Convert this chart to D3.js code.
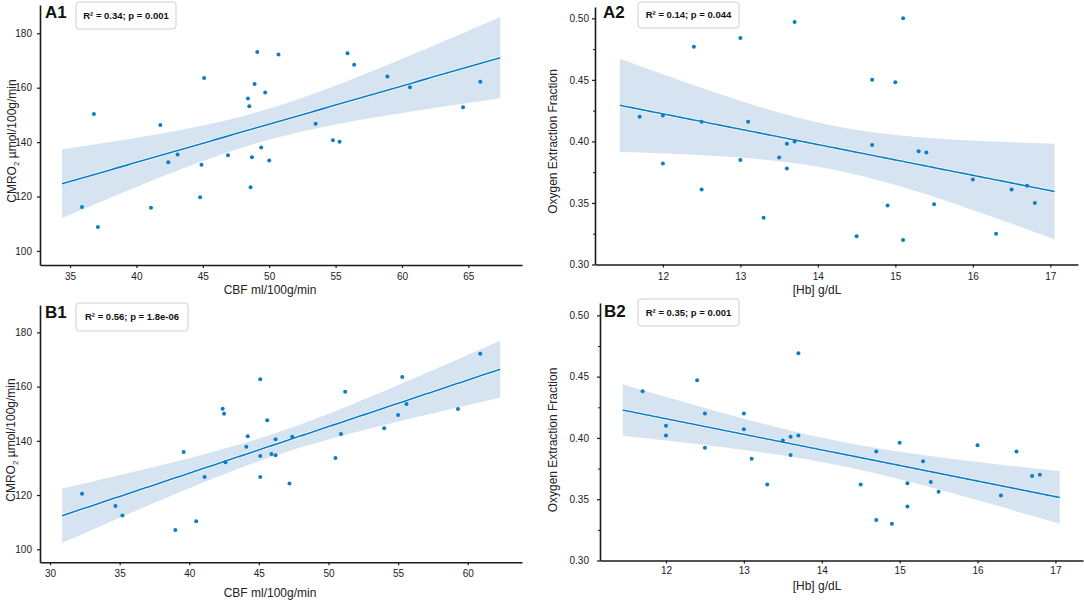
<!DOCTYPE html>
<html><head><meta charset="utf-8">
<script src="https://cdn.jsdelivr.net/npm/d3@7"></script>
<style>
body{margin:0;background:#fff;}
svg{display:block;font-family:"Liberation Sans",Arial,sans-serif;}
</style></head><body>
<svg id="chart" width="1084" height="602"></svg>
<script>
// ---------------- data ----------------
const a1_cbf   = [35.9,36.8,37.1,41.1,41.8,42.4,43.1,44.8,44.9,45.1,46.9,48.4,48.5,48.6,48.7,48.9,49.1,49.4,49.7,50.0,50.7,53.5,54.8,55.3,55.9,56.4,58.9,60.6,64.6,65.9];
const a1_cmro2 = [116.1,150.3,108.8,115.9,146.3,132.6,135.4,119.7,131.7,163.6,135.2,156.0,153.2,123.4,134.4,161.4,173.1,138.0,158.2,133.2,172.2,146.7,140.7,140.1,172.7,168.4,164.1,160.2,152.8,162.2];

const a2_hb  = [11.7,12.0,12.0,12.4,12.5,12.5,13.0,13.0,13.1,13.3,13.5,13.6,13.6,13.7,13.7,14.5,14.7,14.7,14.9,15.0,15.1,15.1,15.3,15.4,15.5,16.0,16.3,16.5,16.7,16.8];
const a2_oef = [0.420,0.421,0.382,0.477,0.416,0.361,0.484,0.385,0.416,0.338,0.387,0.398,0.378,0.497,0.400,0.323,0.450,0.397,0.348,0.448,0.500,0.320,0.392,0.391,0.349,0.369,0.325,0.361,0.364,0.350];

const b1_cbf   = [32.3,34.7,35.2,39.0,39.6,40.5,41.1,42.6,42.4,42.5,44.1,44.2,45.1,45.1,45.1,45.6,45.9,46.2,46.2,47.4,47.2,50.5,50.9,51.2,54.0,55.0,55.3,55.6,59.3,60.9];
const b1_cmro2 = [120.5,116.0,112.5,107.1,135.9,110.3,126.7,132.1,151.8,150.0,137.8,141.7,162.7,134.4,126.7,147.6,135.1,140.6,134.7,141.5,124.3,133.7,142.5,158.1,144.6,149.5,163.5,153.6,151.7,172.1];

const b2_hb  = [11.7,12.0,12.0,12.4,12.5,12.5,13.0,13.0,13.1,13.3,13.5,13.6,13.6,13.7,13.7,14.5,14.7,14.7,14.9,15.0,15.1,15.1,15.3,15.4,15.5,16.0,16.3,16.5,16.7,16.8];
const b2_oef = [0.438,0.410,0.402,0.447,0.420,0.392,0.420,0.407,0.383,0.362,0.398,0.401,0.386,0.469,0.402,0.362,0.389,0.333,0.330,0.396,0.363,0.344,0.381,0.364,0.356,0.394,0.353,0.389,0.369,0.370];

const cbfTicksA   = [35,40,45,50,55,60,65];
const cbfTicksB   = [30,35,40,45,50,55,60];
const cmroTicks   = [100,120,140,160,180];
const hbTicks     = [12,13,14,15,16,17];
const oefTicks    = [0.30,0.35,0.40,0.45,0.50];
const oefMinor    = [0.325,0.375,0.425,0.475];

const panelNames  = ["A1","A2","B1","B2"];
const statTexts   = ["R² = 0.34; p = 0.001","R² = 0.14; p = 0.044","R² = 0.56; p = 1.8e-06","R² = 0.35; p = 0.001"];
const xTitles     = ["CBF ml/100g/min","[Hb] g/dL","CBF ml/100g/min","[Hb] g/dL"];

// ---------------- style / layout ----------------
const BLUE = "#0b7dc4", BAND = "#d6e4f2", AXIS = "#1a1a1a";
const svg = d3.select("#chart");

const panels = [
  {i:0, xs:a1_cbf, ys:a1_cmro2, px:[40,522], py:[265,5],   xd:[32.74,69.04], yd:[94.82,190.4],
   xt:cbfTicksA, yt:cmroTicks, fmt:d3.format("d"), minor:null, ypad:5, xpad:5,
   lab:[45,18], box:[76,2,100,27], xl:[270,294], yl:[12,141], cmro:true},
  {i:1, xs:a2_hb, ys:a2_oef, px:[595,1078], py:[264.5,7], xd:[11.124,17.357], yd:[0.30,0.5092],
   xt:hbTicks, yt:oefTicks, fmt:d3.format(".2f"), minor:oefMinor, ypad:3, xpad:5,
   lab:[603,18], box:[638,2,101,26], xl:[817,294], yl:[553,141.5], cmro:false},
  {i:2, xs:b1_cbf, ys:b1_cmro2, px:[40,522], py:[562.3,305], xd:[29.28,63.9], yd:[95.2,190.1],
   xt:cbfTicksB, yt:cmroTicks, fmt:d3.format("d"), minor:null, ypad:5, xpad:5,
   lab:[45,318], box:[76,303,112,28], xl:[270,597], yl:[11,440], cmro:true},
  {i:3, xs:b2_hb, ys:b2_oef, px:[600,1083], py:[560.5,303], xd:[11.153,17.354], yd:[0.30,0.5101],
   xt:hbTicks, yt:oefTicks, fmt:d3.format(".2f"), minor:oefMinor, ypad:8, xpad:3,
   lab:[604,317], box:[638,299,101,27], xl:[817,590], yl:[553,440], cmro:false}
];

function regression(xs, ys){
  const n = xs.length, mx = d3.mean(xs), my = d3.mean(ys);
  let sxx=0, sxy=0;
  for(let k=0;k<n;k++){ sxx += (xs[k]-mx)**2; sxy += (xs[k]-mx)*(ys[k]-my); }
  const b = sxy/sxx, a = my - b*mx;
  let sse = 0;
  for(let k=0;k<n;k++){ sse += (ys[k]-(a+b*xs[k]))**2; }
  const s = Math.sqrt(sse/(n-2)), t = 2.048;
  const lo = d3.min(xs), hi = d3.max(xs), m = 0.05*(hi-lo);
  const grid = d3.range(0,101).map(k => lo - m + (hi-lo+2*m)*k/100);
  return grid.map(x => {
    const f = a + b*x, se = s*Math.sqrt(1/n + (x-mx)**2/sxx);
    return {x, f, l:f - t*se, u:f + t*se};
  });
}

panels.forEach(p => {
  const x = d3.scaleLinear().domain(p.xd).range(p.px);
  const y = d3.scaleLinear().domain(p.yd).range(p.py);
  const g = svg.append("g");
  const reg = regression(p.xs, p.ys);

  // band
  g.append("path").datum(reg)
    .attr("fill", BAND).attr("stroke","none")
    .attr("d", d3.area().x(d=>x(d.x)).y0(d=>y(d.l)).y1(d=>y(d.u)));
  // fit line
  g.append("path").datum(reg)
    .attr("fill","none").attr("stroke","#fff").attr("stroke-width",2.8)
    .attr("d", d3.line().x(d=>x(d.x)).y(d=>y(d.f)));
  g.append("path").datum(reg)
    .attr("fill","none").attr("stroke",BLUE).attr("stroke-width",1.6)
    .attr("d", d3.line().x(d=>x(d.x)).y(d=>y(d.f)));
  // points
  g.selectAll("circle.pt").data(p.xs.map((v,k)=>[v,p.ys[k]])).join("circle")
    .attr("class","pt").attr("cx",d=>x(d[0])).attr("cy",d=>y(d[1]))
    .attr("r",2.0).attr("fill",BLUE);

  // axes
  const xa = g.append("g").attr("transform",`translate(0,${p.py[0]})`)
    .call(d3.axisBottom(x).tickValues(p.xt).tickSize(3).tickSizeOuter(0).tickPadding(p.xpad).tickFormat(d3.format("d")));
  const ya = g.append("g").attr("transform",`translate(${p.px[0]},0)`)
    .call(d3.axisLeft(y).tickValues(p.yt).tickSize(3).tickSizeOuter(0).tickPadding(p.ypad).tickFormat(p.fmt));
  if(p.minor){
    g.append("g").attr("transform",`translate(${p.px[0]},0)`)
      .call(d3.axisLeft(y).tickValues(p.minor).tickSize(2).tickSizeOuter(0).tickFormat(""))
      .call(s=>s.select(".domain").remove());
  }
  [xa,ya].forEach(a=>{
    a.select(".domain").attr("stroke",AXIS).attr("stroke-width",1.6);
    a.selectAll(".tick line").attr("stroke",AXIS).attr("stroke-width",1.2);
    a.selectAll(".tick text").attr("fill","#222").style("font-size","10px")
      .style("font-family",'"Liberation Sans",Arial,sans-serif');
  });
  g.selectAll(".tick line").attr("stroke",AXIS);

  // axis titles
  g.append("text").attr("x",p.xl[0]).attr("y",p.xl[1]).attr("text-anchor","middle")
    .style("font-size","12px").attr("fill","#222").text(xTitles[p.i]);
  const yt = g.append("text").attr("transform",`translate(${p.yl[0]},${p.yl[1]}) rotate(-90)`)
    .attr("text-anchor","middle").attr("dy","0.35em").style("font-size","12px").attr("fill","#222");
  if(p.cmro){
    yt.append("tspan").text("CMRO");
    yt.append("tspan").text("2").style("font-size","8px").attr("dy",3);
    yt.append("tspan").text(" µmol/100g/min").attr("dy",-3);
  } else {
    yt.text("Oxygen Extraction Fraction");
  }

  // panel label
  g.append("text").attr("x",p.lab[0]).attr("y",p.lab[1])
    .style("font-size","17px").style("font-weight","bold").attr("fill","#111").text(panelNames[p.i]);
  // stats box
  g.append("rect").attr("x",p.box[0]).attr("y",p.box[1]).attr("width",p.box[2]).attr("height",p.box[3])
    .attr("rx",3).attr("fill","#fff").attr("stroke","#cfcfcf").attr("stroke-width",1);
  g.append("text").attr("x",p.box[0]+p.box[2]/2).attr("y",p.box[1]+p.box[3]/2).attr("dy","0.35em")
    .attr("text-anchor","middle").style("font-size","9.5px").style("font-weight","bold").attr("fill","#111")
    .text(statTexts[p.i]);
});
</script>
</body></html>
